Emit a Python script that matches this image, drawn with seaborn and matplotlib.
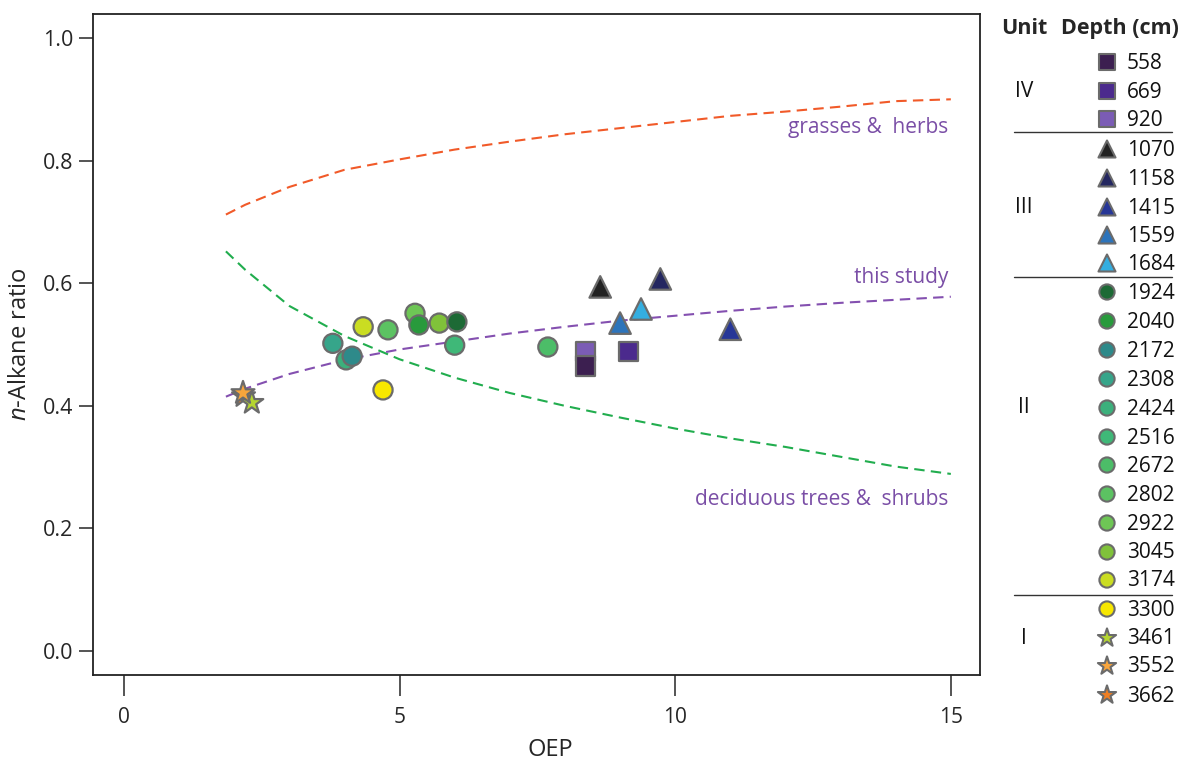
import numpy as np
import pandas as pd
import matplotlib
matplotlib.use("Agg")
import matplotlib.pyplot as plt
import seaborn as sns

# ---- sample measurements ----
depths = [558, 669, 920, 1070, 1158, 1415, 1559, 1684,
          1924, 2040, 2172, 2308, 2424, 2516, 2672, 2802, 2922, 3045, 3174,
          3300, 3461, 3552, 3662]
units = ["IV", "IV", "IV", "III", "III", "III", "III", "III",
         "II", "II", "II", "II", "II", "II", "II", "II", "II", "II", "II",
         "I", "I", "I", "I"]
shapes = ["square", "square", "square", "tri", "tri", "tri", "tri", "tri",
          "circle", "circle", "circle", "circle", "circle", "circle", "circle",
          "circle", "circle", "circle", "circle",
          "circle", "star", "star", "star"]
oep = [8.38, 9.15, 8.38, 8.64, 9.73, 11.0, 9.0, 9.38,
       6.04, 5.35, 4.14, 3.79, 4.03, 6.0, 7.69, 4.79, 5.28, 5.72, 4.34,
       4.70, 2.32, 2.16, 2.17]
alkane_ratio = [0.465, 0.488, 0.488, 0.594, 0.607, 0.525, 0.535, 0.558,
                0.537, 0.532, 0.481, 0.502, 0.475, 0.499, 0.496, 0.524, 0.551, 0.535, 0.529,
                0.426, 0.405, 0.421, 0.416]
colors = ["#3c1f50", "#4b2a8d", "#7b5cb5", "#222222", "#242760", "#273797",
          "#2d74bb", "#34aee0",
          "#1d6a35", "#289a3c", "#2e8a8a", "#36a58a", "#3cb07c", "#3fb878",
          "#4cbd68", "#5cc262", "#6ec655", "#80c23a", "#cadd22",
          "#f7e700", "#b5d630", "#f8a53c", "#f07f22"]

# ---- end-member mixing curves ----
curve_oep = [1.85, 2.2, 3, 4, 5, 6, 7, 8, 9, 10, 11, 12, 13, 14, 15]
grasses_herbs = [0.712, 0.728, 0.757, 0.785, 0.802, 0.818, 0.831, 0.843,
                 0.853, 0.863, 0.873, 0.880, 0.888, 0.897, 0.900]
deciduous = [0.652, 0.622, 0.563, 0.514, 0.476, 0.446, 0.421, 0.400,
             0.381, 0.363, 0.347, 0.333, 0.317, 0.301, 0.289]
this_study = [0.415, 0.428, 0.452, 0.475, 0.492, 0.505, 0.518, 0.529,
              0.539, 0.547, 0.555, 0.562, 0.568, 0.573, 0.578]

sns.set_style("ticks")
plt.rcParams["font.family"] = ["Open Sans", "DejaVu Sans"]
plt.rcParams["mathtext.fontset"] = "custom"
plt.rcParams["mathtext.it"] = "Open Sans:italic"
plt.rcParams["mathtext.rm"] = "Open Sans"

df = pd.DataFrame({"depth": [str(d) for d in depths], "unit": units,
                   "shape": shapes, "oep": oep, "ratio": alkane_ratio})
palette = {str(d): c for d, c in zip(depths, colors)}
marker_map = {"square": "s", "tri": "^", "circle": "o", "star": "*"}
size_map = {"square": 190, "tri": 240, "circle": 190, "star": 300}
legend_size = {"square": 130, "tri": 150, "circle": 120, "star": 190}

fig = plt.figure(figsize=(11.93, 7.65), dpi=100)
ax = fig.add_axes([0.078, 0.1176, 0.7435, 0.864])

purple = "#7a4ea6"
curves = pd.DataFrame({"oep": curve_oep * 3,
                       "ratio": grasses_herbs + deciduous + this_study,
                       "curve": ["gh"] * len(curve_oep) + ["dt"] * len(curve_oep)
                       + ["ts"] * len(curve_oep)})
sns.lineplot(data=curves, x="oep", y="ratio", hue="curve",
             palette={"gh": "#f15a29", "dt": "#21ad4e", "ts": "#8450b0"},
             legend=False, ax=ax, linewidth=1.5, sort=False)
for line in ax.get_lines():
    line.set_dashes([5, 3])

# draw samples so that overlapping markers stack as in the field plot
for shp in ["star", "circle", "square", "tri"]:
    sub = df[df["shape"] == shp].iloc[::-1]
    if shp == "star":
        sub = df[df["shape"] == "star"].iloc[[2, 0, 1]]
    sns.scatterplot(data=sub, x="oep", y="ratio", hue="depth", palette=palette,
                    marker=marker_map[shp], s=size_map[shp], edgecolor="#6b6b6b",
                    linewidth=1.6, legend=False, ax=ax, zorder=3)

ax.text(14.95, 0.845, "grasses &  herbs", color=purple, fontsize=15,
        ha="right", va="baseline")
ax.text(14.95, 0.600, "this study", color=purple, fontsize=15,
        ha="right", va="baseline")
ax.text(14.95, 0.238, "deciduous trees &  shrubs", color=purple, fontsize=15,
        ha="right", va="baseline")

ax.set_xlim(-0.56, 15.53)
ax.set_ylim(-0.039, 1.039)
ax.set_xticks([0, 5, 10, 15])
ax.set_yticks([0.0, 0.2, 0.4, 0.6, 0.8, 1.0])
ax.set_yticklabels(["0.0", "0.2", "0.4", "0.6", "0.8", "1.0"])
ax.tick_params(axis="y", length=10, width=1.1, labelsize=15.5, pad=4)
ax.tick_params(axis="x", length=15, width=1.1, labelsize=15, pad=8)
for sp in ax.spines.values():
    sp.set_visible(True)
    sp.set_linewidth(1.3)
    sp.set_color("#222222")
ax.set_xlabel("OEP", fontsize=17)
ax.xaxis.set_label_coords(0.515, -0.095)
ax.set_ylabel(r"$\it{n}$-Alkane ratio", fontsize=17, labelpad=8)

# ---- legend panel on the right ----
lax = fig.add_axes([0.0, 0.0, 1.0, 1.0], facecolor="none")
row_y = [62, 91, 119, 149, 178, 207, 235, 263,
         292, 321, 350, 379, 408, 437, 465, 494, 523, 552, 580,
         609, 638, 666, 695]
leg = df.copy()
leg["lx"] = 1107
leg["ly"] = row_y
for shp in ["square", "tri", "circle", "star"]:
    sub = leg[leg["shape"] == shp]
    sns.scatterplot(data=sub, x="lx", y="ly", hue="depth", palette=palette,
                    marker=marker_map[shp], s=legend_size[shp], edgecolor="#6b6b6b",
                    linewidth=1.5, legend=False, ax=lax)
lax.set_xlim(0, 1193)
lax.set_ylim(765, 0)
lax.axis("off")
for d, y in zip(depths, row_y):
    lax.text(1127, y + 1, str(d), fontsize=15, va="center", ha="left", color="#111111")
lax.text(1001, 28, "Unit", fontsize=15.5, fontweight="bold", va="center", ha="left")
lax.text(1061, 28, "Depth (cm)", fontsize=15.5, fontweight="bold", va="center", ha="left")
for name, y in [("IV", 91), ("III", 207), ("II", 407), ("I", 638)]:
    lax.text(1024, y, name, fontsize=15, va="center", ha="center", color="#111111")
for y in [132, 277, 595]:
    lax.plot([1014, 1172], [y, y], color="#333333", linewidth=1.0)

fig.savefig("out.png", dpi=100)
